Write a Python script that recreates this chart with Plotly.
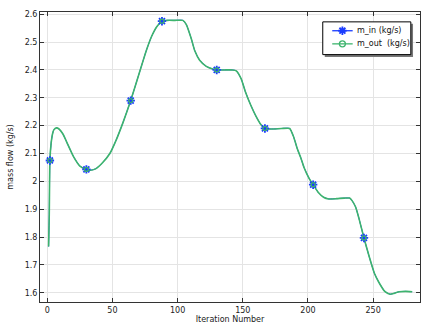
import plotly.graph_objects as go

# Curve (iteration, mass flow in kg/s)
iteration = [1, 1.5, 2, 3, 4, 5, 7, 9, 12, 15, 20, 25, 30, 33, 37, 42, 48, 53, 58, 64,
             70, 76, 80, 84, 88, 92, 98, 104, 106.7, 110.5, 113.1, 116.9, 122, 127, 130, 136,
             142, 145, 148.8, 152, 156, 160, 164, 167, 172, 180, 186, 189, 192, 194.5,
             197, 201, 204, 208, 212, 216, 222, 228, 232, 234, 236.6, 239, 243, 247,
             251, 254.5, 259, 263, 266, 270, 275, 280]
m_in = [1.766, 1.88, 2.075, 2.14, 2.17, 2.185, 2.192, 2.188, 2.17, 2.14, 2.09, 2.055,
        2.043, 2.04, 2.045, 2.065, 2.10, 2.15, 2.21, 2.29, 2.38, 2.47, 2.52, 2.555,
        2.575, 2.578, 2.578, 2.578, 2.563, 2.512, 2.470, 2.435, 2.413, 2.403, 2.40, 2.40,
        2.40, 2.397, 2.368, 2.322, 2.275, 2.235, 2.203, 2.19, 2.188, 2.19, 2.19, 2.16,
        2.115, 2.085, 2.05, 2.01, 1.988, 1.96, 1.943, 1.937, 1.938, 1.94, 1.94, 1.93,
        1.908, 1.87, 1.797, 1.73, 1.67, 1.637, 1.605, 1.595, 1.598, 1.604, 1.605, 1.604]
m_out = list(m_in)

# Marked points
mark_iter = [2, 30, 64, 88, 130, 167, 204, 243]
mark_val = [2.075, 2.043, 2.29, 2.575, 2.40, 2.19, 1.988, 1.797]

series_names = ["m_in (kg/s)", "m_out\u00a0 (kg/s)"]
blue = "#1a3cff"
green = "#3db46d"

# plot area in pixels
L, R, T, B = 40, 421, 12, 306
W, H = 426, 327
XR = [-5.6, 286]
YR = [1.567, 2.608]


def px2x(px):
    return XR[0] + (px - L) / (R - L) * (XR[1] - XR[0])


def px2y(py):
    return YR[1] - (py - T) / (B - T) * (YR[1] - YR[0])


fig = go.Figure()
fig.add_trace(go.Scatter(x=iteration, y=m_in, mode="lines", line=dict(color=blue, width=1.0, shape="spline", smoothing=0.5), showlegend=False, hoverinfo="skip"))
fig.add_trace(go.Scatter(x=iteration, y=m_out, mode="lines", line=dict(color=green, width=1.6, shape="spline", smoothing=0.5), showlegend=False, hoverinfo="skip"))
fig.add_trace(go.Scatter(x=mark_iter, y=mark_val, mode="markers", marker=dict(symbol="asterisk-open", size=7, color=blue, line=dict(color=blue, width=1.8)), showlegend=False))
fig.add_trace(go.Scatter(x=mark_iter, y=mark_val, mode="markers", marker=dict(symbol="circle-open", size=4, color=green, line=dict(color=green, width=1.3)), showlegend=False))

# legend drawn on an overlay axis expressed in pixels
leg_y = [31, 44.3]
leg_sym = [dict(symbol="asterisk-open", size=7, color=blue, line=dict(color=blue, width=1.8)),
           dict(symbol="circle-open", size=6, color=green, line=dict(color=green, width=1.3))]
leg_col = [blue, green]
for i in range(2):
    fig.add_trace(go.Scatter(x=[333, 353.5], y=[leg_y[i]] * 2, xaxis="x2", yaxis="y2", mode="lines",
                             line=dict(color=leg_col[i], width=1.3), showlegend=False, hoverinfo="skip"))
    fig.add_trace(go.Scatter(x=[343.2], y=[leg_y[i]], xaxis="x2", yaxis="y2", mode="markers",
                             marker=leg_sym[i], showlegend=False, hoverinfo="skip"))

annotations = [dict(x=356, y=leg_y[i], xref="x2", yref="y2", text=series_names[i], showarrow=False,
                    xanchor="left", yanchor="middle", font=dict(family="DejaVu Sans", size=8, color="#111111"))
               for i in range(2)]

shapes = [
    dict(type="rect", xref="x", yref="y", x0=px2x(325.5), x1=px2x(414), y0=px2y(24), y1=px2y(57.5),
         fillcolor="#777777", line=dict(width=0), layer="between"),
    dict(type="rect", xref="x", yref="y", x0=px2x(323.5), x1=px2x(411.8), y0=px2y(22), y1=px2y(55.2),
         fillcolor="white", line=dict(width=1, color="black"), layer="between"),
]

axis_common = dict(showgrid=True, gridcolor="#e4e4e4", gridwidth=1, zeroline=False,
                   showline=True, linecolor="#333333", linewidth=1, mirror="allticks",
                   ticks="inside", ticklen=4, tickcolor="#333333",
                   tickfont=dict(family="DejaVu Sans", size=8, color="#222222"))

fig.update_layout(
    width=W, height=H,
    margin=dict(l=L, r=W - R, t=T, b=H - B),
    paper_bgcolor="white", plot_bgcolor="white",
    font=dict(family="DejaVu Sans", size=8, color="#222222"),
    xaxis=dict(range=XR, dtick=50, title=dict(text="Iteration Number", font=dict(size=8), standoff=2), **axis_common),
    yaxis=dict(range=YR, dtick=0.1, title=dict(text="mass flow (kg/s)", font=dict(size=8), standoff=9), **axis_common),
    xaxis2=dict(overlaying="x", range=[L, R], visible=False, showgrid=False),
    yaxis2=dict(overlaying="y", range=[B, T], visible=False, showgrid=False),
    annotations=annotations,
    shapes=shapes,
    showlegend=False,
)

fig.write_html("out.html")
